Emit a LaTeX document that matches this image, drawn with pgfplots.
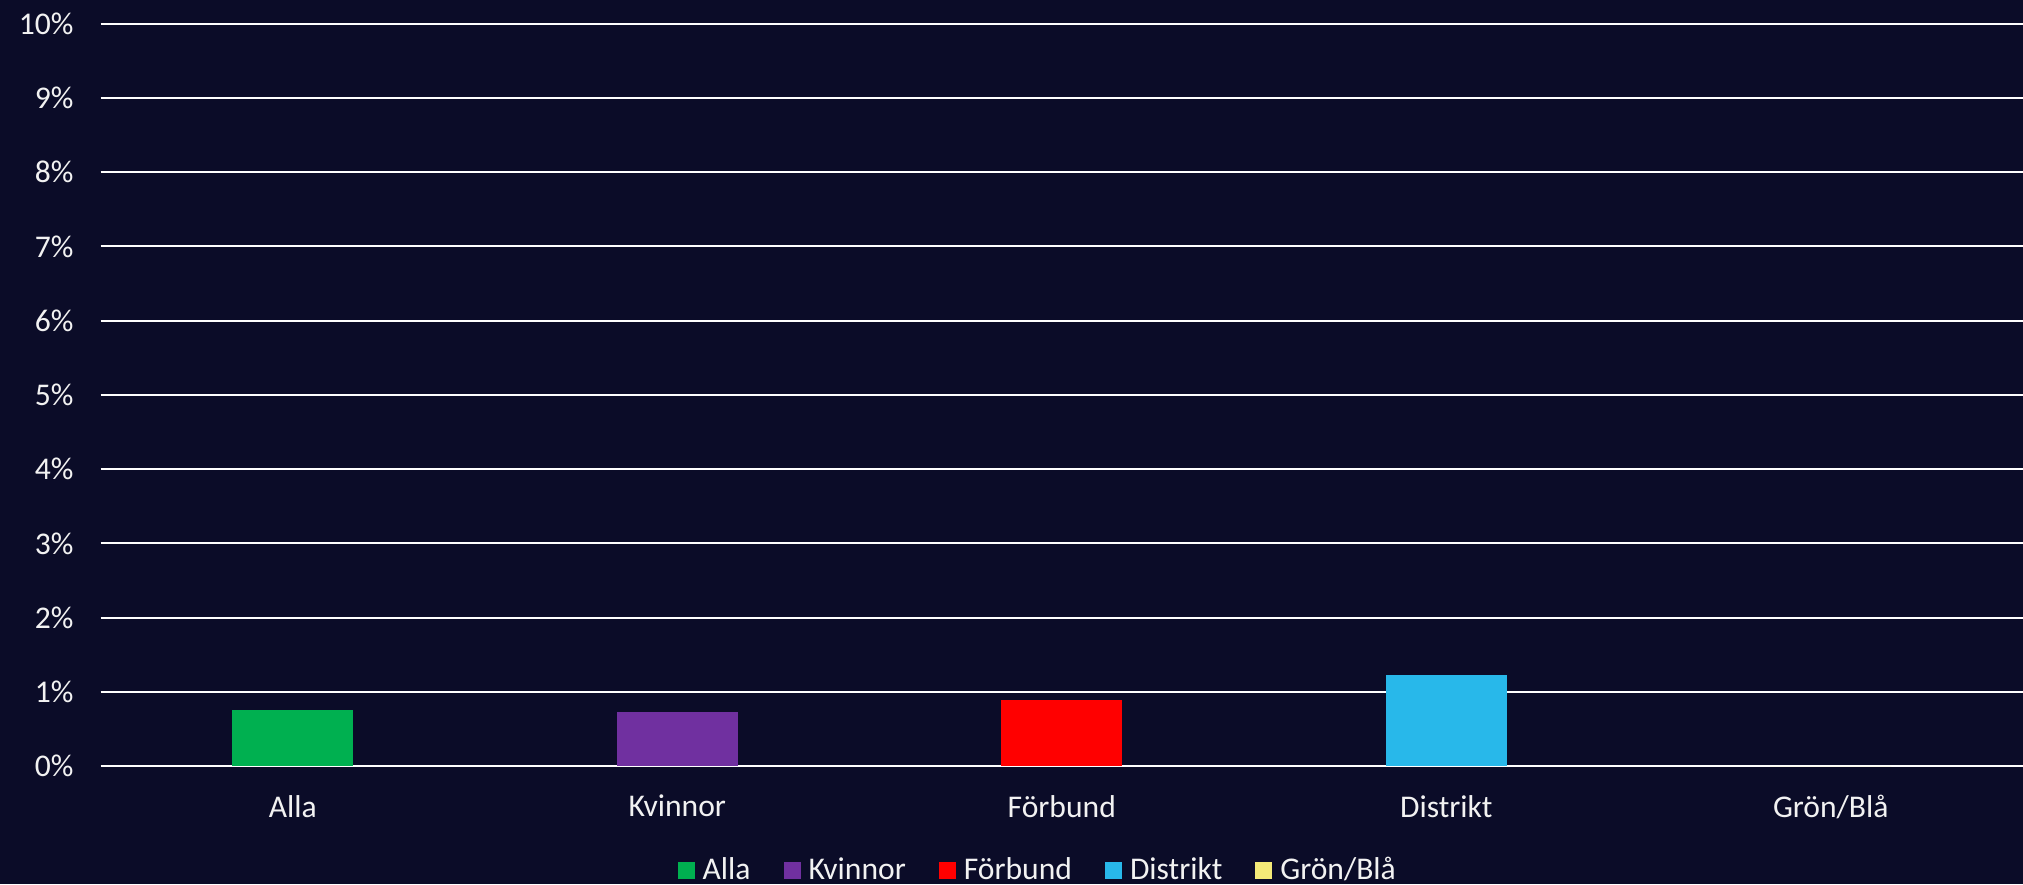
\documentclass[border=0pt]{standalone}
\usepackage{fontspec}
\setmainfont{Carlito}
\usepackage{pgfplots}
\pgfplotsset{compat=1.18}
\definecolor{bg}{RGB}{11,12,40}
\definecolor{cAlla}{RGB}{0,176,80}
\definecolor{cKv}{RGB}{112,48,160}
\definecolor{cFb}{RGB}{255,0,0}
\definecolor{cDi}{RGB}{40,184,234}
\definecolor{cGB}{RGB}{244,234,120}
\definecolor{txt}{RGB}{242,242,242}
\begin{document}
\begin{tikzpicture}
\fill[bg] (-50.3pt,-59pt) rectangle (961.2pt,383.05pt);
\begin{axis}[
  scale only axis,
  width=961.2pt, height=371.2pt,
  ybar,
  bar width=0.315,
  xmin=-0.5, xmax=4.5,
  ymin=0, ymax=10,
  xtick={0,1,2,3,4},
  xticklabels={Alla,Kvinnor,Förbund,Distrikt,Grön/Blå},
  ytick={0,1,...,10},
  yticklabel={\pgfmathprintnumber{\tick}\%},
  /pgf/number format/assume math mode=true,
  major tick length=0pt,
  axis line style={draw=none},
  ymajorgrids,
  grid style={white, line width=1pt},
  tick label style={font=\fontsize{15.8}{18}\selectfont, text=txt},
  yticklabel style={xshift=-10pt},
  xticklabel style={yshift=-11pt},
  legend columns=-1,
  legend style={at={(axis description cs:0.488,0)}, anchor=center, yshift=-52pt,
    draw=none, fill=none, text=txt, font=\fontsize{15.8}{18}\selectfont,
    /tikz/every odd column/.append style={column sep=2pt},
    /tikz/every even column/.append style={column sep=14.5pt}},
  legend image code/.code={\fill[#1] (0pt,-4.25pt) rectangle (8.5pt,4.25pt);},
]
\addplot[fill=cAlla, draw=none, bar shift=0pt] coordinates {(0,0.757)};
\addlegendentry{Alla}
\addplot[fill=cKv, draw=none, bar shift=0pt] coordinates {(1,0.73)};
\addlegendentry{Kvinnor}
\addplot[fill=cFb, draw=none, bar shift=0pt] coordinates {(2,0.89)};
\addlegendentry{Förbund}
\addplot[fill=cDi, draw=none, bar shift=0pt] coordinates {(3,1.23)};
\addlegendentry{Distrikt}
\addplot[fill=cGB, draw=none, bar shift=0pt] coordinates {(4,0)};
\addlegendentry{Grön/Blå}
\end{axis}
\pgfresetboundingbox
\path (-50.3pt,-59pt) rectangle (961.2pt,383.05pt);
\end{tikzpicture}
\end{document}
